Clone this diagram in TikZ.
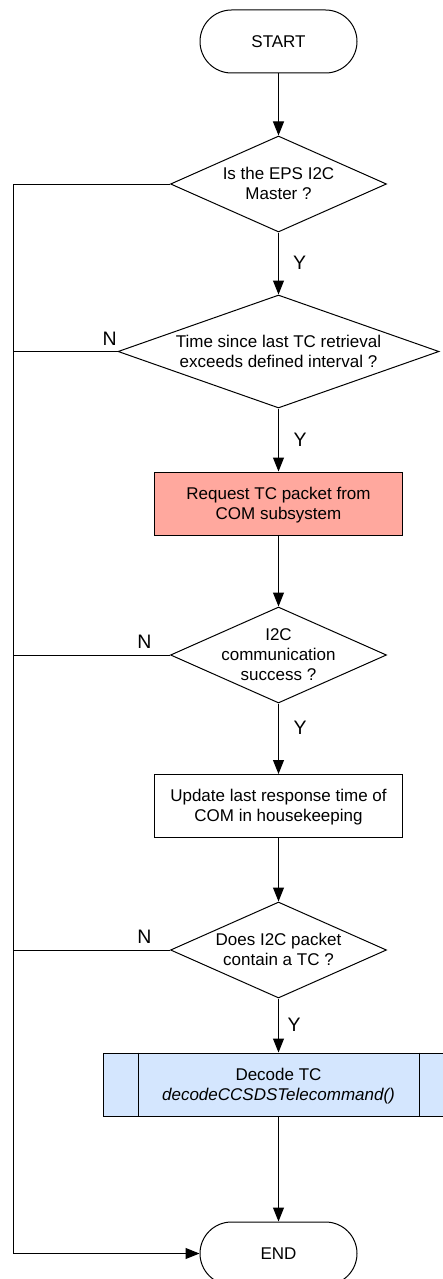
\documentclass[tikz,border=0pt]{standalone}
\usepackage{fontspec}
\setmainfont{Liberation Sans}
\usetikzlibrary{shapes.geometric,arrows.meta}

\definecolor{reqfill}{RGB}{255,168,158}
\definecolor{decfill}{RGB}{212,230,254}

% centred block of lines that takes no room of its own, so that the
% shape size comes from minimum width / minimum height only
\newcommand\blocktext[1]{\makebox[0pt]{\smash{\raisebox{-6.25pt}{%
  \begin{tabular}{@{}c@{}}#1\end{tabular}}}}}

\tikzset{
  base/.style={draw=black, line width=1pt, inner sep=0pt,
    font=\fontsize{17}{20}\selectfont},
  terminal/.style={base, rectangle, rounded corners=31.5pt,
    minimum width=157pt, minimum height=63pt},
  decision/.style={base, diamond, aspect=2.25,
    minimum width=216pt, minimum height=96pt},
  process/.style={base, rectangle, minimum width=248pt, minimum height=63pt},
  predef/.style={base, rectangle, fill=decfill,
    minimum width=350pt, minimum height=63pt},
  flow/.style={line width=1pt, -{Triangle[length=14pt,width=11pt]}},
  plain/.style={line width=1pt},
  yn/.style={font=\fontsize{19.5}{22}\selectfont, inner sep=0pt}
}

\begin{document}
\begin{tikzpicture}[x=1pt, y=-1pt]
  \useasboundingbox (0,0) rectangle (443,1279);
  \clip (0,0) rectangle (443,1279);

  % main column
  \node[terminal] (start) at (278.5,41.5) {\blocktext{START}};
  \node[decision] (master) at (278.5,184) {\blocktext{Is the EPS I2C\\Master ?}};
  \node[decision, minimum width=321pt, minimum height=113pt, aspect=2.84]
    (interval) at (278.5,351.5)
    {\blocktext{Time since last TC retrieval\\exceeds defined interval ?}};
  \node[process, fill=reqfill] (request) at (278.5,503.5)
    {\blocktext{Request TC packet from\\COM subsystem}};
  \node[decision] (success) at (278.5,655)
    {\blocktext{I2C\\communication\\success ?}};
  \node[process] (update) at (278.5,806)
    {\blocktext{Update last response time of\\COM in housekeeping}};
  \node[decision] (hastc) at (278.5,950)
    {\blocktext{Does I2C packet\\contain a TC ?}};
  \node[predef] (decode) at (278.5,1084.5)
    {\blocktext{Decode TC\\\itshape decodeCCSDSTelecommand()}};
  \draw[plain] ([xshift=35pt]decode.north west) -- ([xshift=35pt]decode.south west);
  \draw[plain] ([xshift=-35pt]decode.north east) -- ([xshift=-35pt]decode.south east);
  \node[terminal] (end) at (278.5,1253.5) {\blocktext{END}};

  % downward flow
  \draw[flow] (start) -- (master);
  \draw[flow] (master) -- node[yn, right=14pt, pos=0.49] {Y} (interval);
  \draw[flow] (interval) -- node[yn, right=14.5pt, pos=0.5] {Y} (request);
  \draw[flow] (request) -- (success);
  \draw[flow] (success) -- node[yn, right=14.5pt, pos=0.34] {Y} (update);
  \draw[flow] (update) -- (hastc);
  \draw[flow] (hastc) -- node[yn, right=8.5pt, pos=0.49] {Y} (decode);
  \draw[flow] (decode) -- (end);

  % "no" branches gathered on the left bus
  \coordinate (busTop) at (13,184);
  \coordinate (busBot) at (13,1253.5);
  \draw[plain] (master.west) -- (busTop);
  \draw[plain] (interval.west) -- node[yn, above=6pt, pos=0.076] {N} (busTop |- interval.west);
  \draw[plain] (success.west) -- node[yn, above=6pt, pos=0.163] {N} (busTop |- success.west);
  \draw[plain] (hastc.west) -- node[yn, above=6pt, pos=0.163] {N} (busTop |- hastc.west);
  \draw[flow] (busTop) -- (busBot) -- (end.west);
\end{tikzpicture}
\end{document}
